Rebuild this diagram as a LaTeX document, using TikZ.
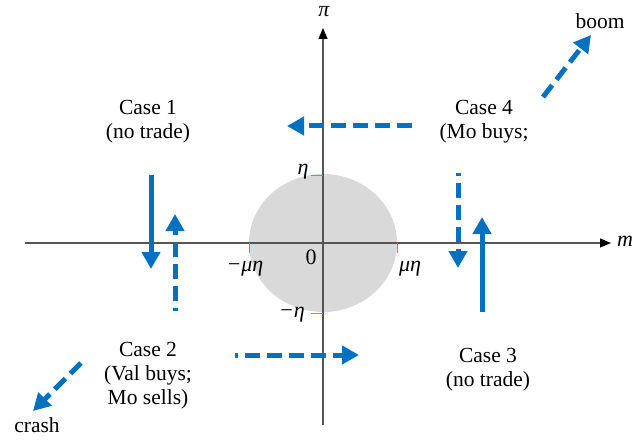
\documentclass[tikz,border=0pt]{standalone}
\usepackage{fontspec}
\setmainfont{Liberation Serif}
\usetikzlibrary{arrows.meta}
\definecolor{arrblue}{HTML}{0070C0}
\definecolor{tickblue}{HTML}{5B9BD5}
\definecolor{disk}{HTML}{D9D9D9}
\definecolor{axisgray}{HTML}{555555}
\begin{document}
\begin{tikzpicture}[x=1pt,y=-1pt,
  txt/.style={font=\fontsize{21.5}{24}\selectfont,align=center,inner sep=0pt},
  mlab/.style={font=\fontsize{22}{24}\selectfont\itshape,inner sep=0pt},
  axisline/.style={draw=axisgray,line width=1.2pt,-{Triangle[length=11pt,width=9pt,fill=black,color=black]}},
  solidarr/.style={draw=arrblue,line width=5pt,-{Triangle[length=17pt,width=18pt]}},
  dasharr/.style={solidarr,dash pattern=on 15pt off 7pt},
  tickmark/.style={draw=tickblue,line width=1pt}]
\useasboundingbox (0,0) rectangle (634,441);
% disk
\fill[disk] (323,243) ellipse [x radius=74, y radius=69];
% axes
\coordinate (xs) at (25,243);
\coordinate (xe) at (611,243);
\coordinate (ys) at (323,425);
\coordinate (ye) at (323,28);
\draw[axisline] (xs) -- (xe);
\draw[axisline] (ys) -- (ye);
\node[mlab] (mlbl) at (625,241) {m};
\node[mlab] (pilbl) at (324,12) {π};
% ticks
\coordinate (t1a) at (311,175); \coordinate (t1b) at (323,175);
\coordinate (t2a) at (311,313); \coordinate (t2b) at (323,313);
\coordinate (t3a) at (249,243); \coordinate (t3b) at (249,253);
\coordinate (t4a) at (397,243); \coordinate (t4b) at (397,253);
\draw[tickmark] (t1a) -- (t1b);
\draw[tickmark] (t2a) -- (t2b);
\draw[tickmark] (t3a) -- (t3b);
\draw[tickmark] (t4a) -- (t4b);
\node[mlab] (eta) at (303,172) {η};
\node[mlab] (meta) at (292,315) {−η};
\node[mlab] (mueta) at (245,269) {−μη};
\node[mlab] (pmueta) at (410,269) {μη};
\node[mlab,font=\fontsize{22}{24}\selectfont] (zero) at (311,257) {0};
% case labels
\node[txt] (c1) at (148,122) {Case 1\\(no trade)};
\node[txt] (c4) at (484,122) {Case 4\\(Mo buys;};
\node[txt] (c2) at (148,376) {Case 2\\(Val buys;\\Mo sells)};
\node[txt] (c3) at (488,370) {Case 3\\(no trade)};
\node[txt] (boom) at (600,21) {boom};
\node[txt] (crash) at (37,425) {crash};
% arrows
\coordinate (a1s) at (151,175); \coordinate (a1e) at (151,269);
\draw[solidarr] (a1s) -- (a1e);
\coordinate (a2s) at (175,311); \coordinate (a2e) at (175,214);
\draw[dasharr,dash phase=12pt] (a2s) -- (a2e);
\coordinate (a3s) at (458,173); \coordinate (a3e) at (458,268);
\draw[dasharr,dash phase=12pt] (a3s) -- (a3e);
\coordinate (a4s) at (482,312); \coordinate (a4e) at (482,217);
\draw[solidarr] (a4s) -- (a4e);
\coordinate (a5s) at (412,126); \coordinate (a5e) at (287,126);
\draw[dasharr] (a5s) -- (a5e);
\coordinate (a6s) at (235,355); \coordinate (a6e) at (359,355);
\draw[dasharr,dash phase=12pt] (a6s) -- (a6e);
\coordinate (a7s) at (543,97); \coordinate (a7e) at (591,35);
\draw[dasharr] (a7s) -- (a7e);
\coordinate (a8s) at (81,363); \coordinate (a8e) at (33,411);
\draw[dasharr] (a8s) -- (a8e);
\end{tikzpicture}
\end{document}
